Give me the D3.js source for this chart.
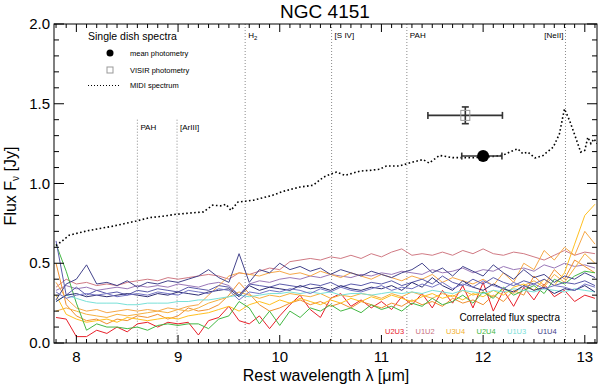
<!DOCTYPE html>
<html>
<head>
<meta charset="utf-8">
<script src="https://cdn.jsdelivr.net/npm/d3@7"></script>
<style>
  body { margin: 0; background: #fff; }
  svg { display: block; font-family: "Liberation Sans", Arial, sans-serif; }
</style>
</head>
<body>
<svg id="chart" width="600" height="386"></svg>
<script>
// wavelength grid of the correlated flux spectra (micron)
const wave = [7.8,7.9,8.0,8.1,8.2,8.3,8.4,8.5,8.6,8.7,8.8,8.9,9.0,9.1,9.2,9.3,9.4,9.5,9.6,9.7,
  9.8,9.9,10.0,10.1,10.2,10.3,10.4,10.5,10.6,10.7,10.8,10.9,11.0,11.1,11.2,11.3,11.4,11.5,11.6,11.7,
  11.8,11.9,12.0,12.1,12.2,12.3,12.4,12.5,12.6,12.7,12.8,12.9,13.0,13.1];

// correlated flux spectra [Jy], one array per baseline / epoch
const u2u3 = [0.16,0.15,0.04,0.04,0.08,0.06,0.10,0.07,0.12,0.13,0.10,0.13,0.12,0.13,0.05,0.14,0.16,0.23,0.14,0.12,
  0.17,0.09,0.17,0.24,0.30,0.21,0.16,0.28,0.31,0.23,0.27,0.22,0.26,0.21,0.29,0.24,0.31,0.22,0.33,0.25,
  0.36,0.22,0.38,0.20,0.33,0.23,0.35,0.27,0.37,0.29,0.33,0.26,0.30,0.28];
const u1u2a = [0.35,0.40,0.37,0.38,0.36,0.37,0.36,0.38,0.39,0.40,0.39,0.41,0.40,0.41,0.42,0.43,0.42,0.40,0.44,0.43,
  0.45,0.47,0.46,0.51,0.52,0.53,0.52,0.54,0.53,0.55,0.53,0.56,0.54,0.57,0.59,0.55,0.56,0.55,0.57,0.55,
  0.58,0.56,0.59,0.56,0.55,0.57,0.56,0.54,0.52,0.55,0.58,0.55,0.57,0.56];
const u1u2b = [0.33,0.36,0.34,0.35,0.33,0.34,0.35,0.34,0.36,0.35,0.36,0.35,0.37,0.36,0.35,0.37,0.38,0.36,0.30,0.37,
  0.39,0.38,0.40,0.41,0.40,0.42,0.41,0.43,0.42,0.41,0.43,0.42,0.44,0.43,0.45,0.44,0.43,0.46,0.44,0.45,
  0.47,0.44,0.46,0.45,0.48,0.46,0.47,0.45,0.49,0.47,0.50,0.48,0.49,0.47];
const u3u4a = [0.50,0.24,0.17,0.14,0.15,0.12,0.15,0.14,0.17,0.16,0.18,0.15,0.17,0.22,0.20,0.21,0.24,0.30,0.38,0.31,
  0.24,0.20,0.22,0.25,0.27,0.24,0.26,0.23,0.25,0.22,0.26,0.24,0.22,0.25,0.23,0.27,0.24,0.26,0.23,0.28,
  0.25,0.27,0.24,0.30,0.26,0.33,0.30,0.42,0.36,0.46,0.40,0.52,0.48,0.44];
const u3u4b = [0.20,0.22,0.20,0.18,0.17,0.16,0.18,0.17,0.18,0.19,0.20,0.19,0.21,0.20,0.22,0.25,0.27,0.29,0.32,0.30,
  0.28,0.30,0.29,0.31,0.30,0.29,0.31,0.28,0.30,0.29,0.31,0.30,0.28,0.31,0.29,0.32,0.30,0.28,0.31,0.29,
  0.33,0.30,0.32,0.29,0.34,0.31,0.36,0.39,0.35,0.43,0.38,0.47,0.56,0.50];
const u3u4c = [0.30,0.18,0.15,0.13,0.14,0.15,0.13,0.16,0.15,0.14,0.15,0.16,0.15,0.17,0.18,0.19,0.21,0.23,0.20,0.24,
  0.26,0.24,0.27,0.25,0.28,0.26,0.24,0.27,0.25,0.28,0.26,0.29,0.27,0.30,0.28,0.26,0.29,0.31,0.28,0.30,
  0.27,0.31,0.29,0.33,0.30,0.35,0.37,0.33,0.40,0.36,0.44,0.62,0.80,0.87];
const u3u4d = [0.38,0.28,0.22,0.20,0.21,0.19,0.20,0.21,0.20,0.21,0.20,0.22,0.21,0.23,0.24,0.30,0.36,0.42,0.44,0.43,
  0.42,0.44,0.45,0.43,0.44,0.42,0.45,0.43,0.41,0.44,0.42,0.40,0.43,0.41,0.39,0.42,0.40,0.43,0.38,0.41,
  0.39,0.37,0.40,0.36,0.44,0.38,0.50,0.46,0.58,0.52,0.60,0.55,0.70,0.62];
const u2u4 = [0.62,0.45,0.25,0.08,0.12,0.10,0.10,0.09,0.10,0.08,0.11,0.12,0.11,0.12,0.12,0.09,0.15,0.17,0.26,0.22,
  0.12,0.20,0.11,0.20,0.16,0.22,0.20,0.24,0.20,0.22,0.19,0.24,0.21,0.23,0.20,0.25,0.23,0.28,0.24,0.26,
  0.30,0.25,0.32,0.28,0.35,0.30,0.33,0.36,0.31,0.40,0.37,0.42,0.45,0.44];
const u1u3 = [0.26,0.30,0.28,0.26,0.25,0.25,0.25,0.24,0.24,0.25,0.25,0.25,0.26,0.26,0.27,0.27,0.28,0.29,0.30,0.29,
  0.30,0.31,0.31,0.32,0.31,0.32,0.31,0.32,0.30,0.31,0.31,0.30,0.31,0.32,0.31,0.32,0.31,0.33,0.32,0.31,
  0.33,0.32,0.31,0.33,0.32,0.34,0.33,0.32,0.34,0.33,0.32,0.34,0.33,0.32];
const u1u4a = [0.27,0.37,0.40,0.49,0.37,0.38,0.36,0.39,0.35,0.38,0.37,0.39,0.38,0.40,0.42,0.46,0.41,0.38,0.56,0.38,
  0.46,0.44,0.50,0.46,0.48,0.45,0.47,0.43,0.46,0.44,0.42,0.45,0.43,0.41,0.44,0.46,0.50,0.44,0.47,0.42,
  0.48,0.45,0.42,0.49,0.44,0.40,0.46,0.41,0.43,0.38,0.42,0.40,0.44,0.41];
const u1u4b = [0.64,0.30,0.35,0.30,0.33,0.31,0.32,0.30,0.33,0.32,0.34,0.33,0.32,0.35,0.34,0.33,0.36,0.35,0.30,0.37,
  0.36,0.35,0.37,0.36,0.35,0.37,0.36,0.38,0.35,0.37,0.36,0.38,0.37,0.39,0.36,0.38,0.40,0.37,0.42,0.38,
  0.36,0.40,0.37,0.41,0.38,0.36,0.39,0.37,0.40,0.36,0.38,0.37,0.39,0.36];
const u1u4c = [0.26,0.30,0.31,0.29,0.30,0.29,0.30,0.31,0.30,0.29,0.31,0.30,0.32,0.31,0.30,0.32,0.33,0.34,0.29,0.36,
  0.33,0.35,0.34,0.33,0.36,0.34,0.35,0.33,0.36,0.34,0.33,0.35,0.34,0.36,0.33,0.38,0.35,0.41,0.36,0.33,
  0.39,0.35,0.33,0.37,0.34,0.32,0.36,0.33,0.35,0.31,0.34,0.33,0.36,0.32];
const u1u4d = [0.32,0.28,0.30,0.31,0.30,0.31,0.29,0.30,0.31,0.30,0.32,0.31,0.30,0.33,0.32,0.31,0.34,0.33,0.27,0.32,
  0.31,0.33,0.32,0.34,0.33,0.31,0.34,0.32,0.35,0.33,0.32,0.34,0.36,0.33,0.35,0.34,0.37,0.35,0.38,0.34,
  0.37,0.35,0.39,0.36,0.34,0.38,0.35,0.37,0.34,0.36,0.35,0.33,0.37,0.35];

// MIDI single dish spectrum
const midiWave = [7.80,7.86,7.93,8.02,8.12,8.23,8.34,8.45,8.59,8.72,8.85,8.98,9.12,9.25,9.34,9.42,9.47,9.52,9.59,9.66,
  9.74,9.83,9.93,10.03,10.12,10.20,10.33,10.43,10.49,10.56,10.64,10.72,10.79,10.88,10.98,11.05,11.18,11.25,11.31,11.41,
  11.47,11.57,11.70,11.80,11.90,12.00,12.10,12.19,12.26,12.34,12.39,12.44,12.51,12.59,12.69,12.75,12.80,12.85,12.92,12.96,
  13.00,13.03,13.06,13.09,13.12];
const midiFlux = [0.61,0.64,0.676,0.69,0.705,0.718,0.73,0.745,0.765,0.786,0.795,0.807,0.815,0.822,0.864,0.86,0.87,0.832,0.884,0.889,
  0.895,0.91,0.926,0.95,0.965,0.978,0.989,1.04,1.056,1.072,1.051,1.065,1.078,1.082,1.089,1.11,1.11,1.124,1.135,1.15,
  1.128,1.176,1.162,1.162,1.162,1.165,1.17,1.176,1.197,1.218,1.187,1.197,1.16,1.176,1.228,1.31,1.468,1.395,1.27,1.197,
  1.208,1.29,1.25,1.28,1.25];

// photometry: [wavelength, flux, xlo, xhi, ylo, yhi]
const meanPhot = [12.0, 1.172, 11.79, 12.185, 1.15, 1.19];
const visirPhot = [11.825, 1.427, 11.457, 12.19, 1.375, 1.48];

// spectral features
const lineNames = ["PAH", "[ArIII]", "H2", "[S IV]", "PAH", "[NeII]"];
const lineWave = [8.6, 8.99, 9.66, 10.51, 11.25, 12.81];
const lineTop = [1.40, 1.40, 2.0, 2.0, 2.0, 2.0];

const baselineNames = ["U2U3", "U1U2", "U3U4", "U2U4", "U1U3", "U1U4"];
const baselineColors = ["#e8202a", "#c87080", "#f2b030", "#44b844", "#78e0d8", "#3c3c88"];

const xTicks = [8, 9, 10, 11, 12, 13];
const yTicks = [0.0, 0.5, 1.0, 1.5, 2.0];

run();

function run () {
  const svg = d3.select("#chart");
  const s = { left: 54, right: 597, top: 24, bottom: 343 };
  const x = d3.scaleLinear().domain([7.78, 13.12]).range([s.left, s.right]);
  const y = d3.scaleLinear().domain([0, 2]).range([s.bottom, s.top]);

  svg.append("clipPath").attr("id", "clip")
    .append("rect")
    .attr("x", s.left).attr("y", s.top)
    .attr("width", s.right - s.left).attr("height", s.bottom - s.top);

  // feature lines
  lineWave.forEach(function (w, i) {
    svg.append("line")
      .attr("x1", x(w)).attr("x2", x(w))
      .attr("y1", y(lineTop[i])).attr("y2", s.bottom)
      .attr("stroke", "#8a8a8a").attr("stroke-width", 1)
      .attr("stroke-dasharray", "1,2");
    const t = svg.append("text")
      .attr("x", i == 5 ? x(w) - 2 : x(w) + 3)
      .attr("y", y(lineTop[i]) + (lineTop[i] < 2 ? 10 : 14))
      .attr("text-anchor", i == 5 ? "end" : "start")
      .style("font-size", "8px");
    if (lineNames[i] == "H2") {
      t.text("H");
      t.append("tspan").attr("dy", 2).style("font-size", "6px").text("2");
    } else {
      t.text(lineNames[i]);
    }
  });

  // correlated flux spectra
  const series = [
    [u2u3, 0], [u1u2a, 1], [u1u2b, 1], [u3u4a, 2], [u3u4b, 2], [u3u4c, 2], [u3u4d, 2],
    [u2u4, 3], [u1u3, 4], [u1u4a, 5], [u1u4b, 5], [u1u4c, 5], [u1u4d, 5]
  ];
  const extra = ["#e8202a", "#d07a84", "#9a78b8", "#f09030", "#f5b040", "#ffc020", "#f6a848",
    "#44b844", "#78e0d8", "#44448c", "#5a5aaa", "#2e2e74", "#7474c4"];
  const line = d3.line()
    .x(function (d, i) { return x(wave[i]); })
    .y(function (d) { return y(d); });
  const g = svg.append("g").attr("clip-path", "url(#clip)");
  series.forEach(function (sr, k) {
    g.append("path")
      .attr("d", line(sr[0]))
      .attr("fill", "none")
      .attr("stroke", extra[k])
      .attr("stroke-width", 1);
  });

  // MIDI spectrum
  const midiLine = d3.line()
    .x(function (d, i) { return x(midiWave[i]); })
    .y(function (d) { return y(d); });
  g.append("path")
    .attr("d", midiLine(midiFlux))
    .attr("fill", "none")
    .attr("stroke", "#000")
    .attr("stroke-width", 1.6)
    .attr("stroke-dasharray", "1.6,2.4");

  // photometry points with error bars
  drawErr(svg, x, y, visirPhot);
  drawErr(svg, x, y, meanPhot);
  svg.append("rect")
    .attr("x", x(visirPhot[0]) - 4.5).attr("y", y(visirPhot[1]) - 5)
    .attr("width", 9).attr("height", 10)
    .attr("fill", "none").attr("stroke", "#999").attr("stroke-width", 1);
  svg.append("circle")
    .attr("cx", x(meanPhot[0])).attr("cy", y(meanPhot[1]))
    .attr("r", 6).attr("fill", "#000");

  drawAxes(svg, x, y, s);

  // legend: single dish
  svg.append("text").attr("x", 88).attr("y", 40)
    .style("font-size", "10.5px").text("Single  dish spectra");
  svg.append("circle").attr("cx", 110).attr("cy", 53).attr("r", 3.5).attr("fill", "#000");
  svg.append("rect").attr("x", 107).attr("y", 67).attr("width", 6).attr("height", 6)
    .attr("fill", "none").attr("stroke", "#999");
  svg.append("line").attr("x1", 88).attr("x2", 119).attr("y1", 85.5).attr("y2", 85.5)
    .attr("stroke", "#000").attr("stroke-width", 1).attr("stroke-dasharray", "1,2");
  const leg = ["mean photometry", "VISIR photometry", "MIDI spectrum"];
  [56, 73, 88].forEach(function (yy, i) {
    svg.append("text").attr("x", 130).attr("y", yy)
      .style("font-size", "7.5px").text(leg[i]);
  });

  // legend: correlated flux
  svg.append("text").attr("x", 560).attr("y", 321)
    .attr("text-anchor", "end")
    .style("font-size", "10px").text("Correlated flux spectra");
  baselineNames.forEach(function (b, i) {
    svg.append("text")
      .attr("x", 385 + i * 30.5).attr("y", 334)
      .attr("fill", baselineColors[i])
      .style("font-size", "7.5px").text(b);
  });

  // titles
  svg.append("text").attr("x", 325).attr("y", 18)
    .attr("text-anchor", "middle").style("font-size", "19px").text("NGC 4151");
  svg.append("text").attr("x", 326).attr("y", 381)
    .attr("text-anchor", "middle").style("font-size", "16px")
    .text("Rest wavelength \u03bb [\u03bcm]");
  const yl = svg.append("text")
    .attr("transform", "translate(16,186) rotate(-90)")
    .attr("text-anchor", "middle").style("font-size", "16px");
  yl.append("tspan").text("Flux F");
  yl.append("tspan").attr("dy", 3).style("font-size", "10px").text("\u03bd");
  yl.append("tspan").attr("dy", -3).text(" [Jy]");
}

function drawErr (svg, x, y, p) {
  const c = "#333";
  svg.append("line").attr("x1", x(p[2])).attr("x2", x(p[3]))
    .attr("y1", y(p[1])).attr("y2", y(p[1])).attr("stroke", c).attr("stroke-width", 1.6);
  [p[2], p[3]].forEach(function (v) {
    svg.append("line").attr("x1", x(v)).attr("x2", x(v))
      .attr("y1", y(p[1]) - 3.5).attr("y2", y(p[1]) + 3.5)
      .attr("stroke", c).attr("stroke-width", 1.6);
  });
  svg.append("line").attr("x1", x(p[0])).attr("x2", x(p[0]))
    .attr("y1", y(p[4])).attr("y2", y(p[5])).attr("stroke", c).attr("stroke-width", 1.6);
  [p[4], p[5]].forEach(function (v) {
    svg.append("line").attr("x1", x(p[0]) - 3.5).attr("x2", x(p[0]) + 3.5)
      .attr("y1", y(v)).attr("y2", y(v)).attr("stroke", c).attr("stroke-width", 1.6);
  });
}

function drawAxes (svg, x, y, s) {
  const ax = svg.append("g").attr("stroke", "#000").attr("stroke-width", 1);
  ax.append("rect").attr("x", s.left).attr("y", s.top)
    .attr("width", s.right - s.left).attr("height", s.bottom - s.top).attr("fill", "none");

  // minor + major ticks, pointing inward on all sides
  d3.range(78, 132).forEach(function (k) {
    const v = k / 10;
    const len = (k % 10 == 0) ? 8 : 4;
    ax.append("line").attr("x1", x(v)).attr("x2", x(v)).attr("y1", s.bottom).attr("y2", s.bottom - len);
    ax.append("line").attr("x1", x(v)).attr("x2", x(v)).attr("y1", s.top).attr("y2", s.top + len);
  });
  d3.range(0, 21).forEach(function (k) {
    const v = k / 10;
    const len = (k % 5 == 0) ? 10 : 5;
    ax.append("line").attr("y1", y(v)).attr("y2", y(v)).attr("x1", s.left).attr("x2", s.left + len);
    ax.append("line").attr("y1", y(v)).attr("y2", y(v)).attr("x1", s.right).attr("x2", s.right - len);
  });

  xTicks.forEach(function (t) {
    svg.append("text").attr("x", x(t)).attr("y", 362)
      .attr("text-anchor", "middle").style("font-size", "15px").text(t);
  });
  yTicks.forEach(function (t) {
    svg.append("text").attr("x", 50).attr("y", y(t) + 5)
      .attr("text-anchor", "end").style("font-size", "15px").text(t.toFixed(1));
  });
}
</script>
</body>
</html>
